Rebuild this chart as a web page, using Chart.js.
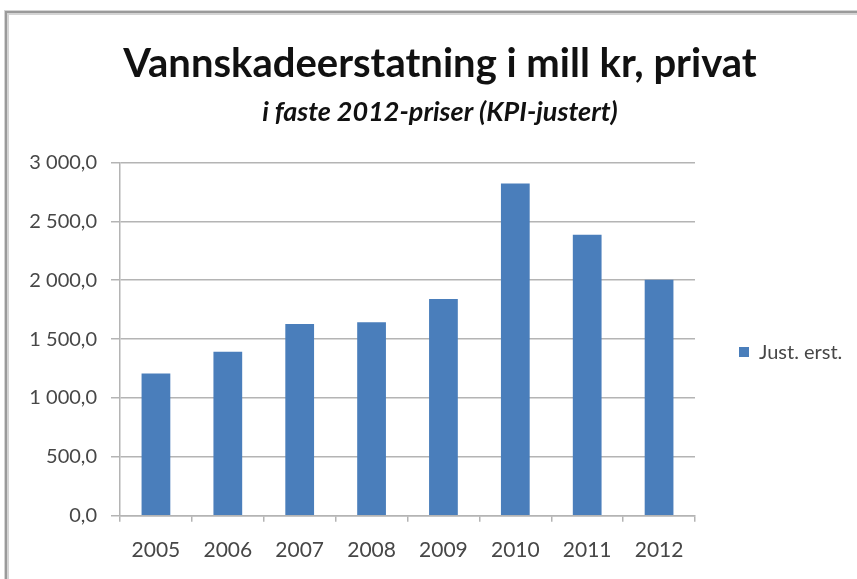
<!DOCTYPE html>
<html>
<head>
<meta charset="utf-8">
<script src="https://cdn.jsdelivr.net/npm/chart.js@4"></script>
<style>
  html, body { margin: 0; padding: 0; background: #fff; }
  #wrap { width: 857px; height: 579px; position: relative; }
</style>
</head>
<body>
<div id="wrap"><canvas id="chart-vann"></canvas></div>
<script>
// data
const years = ['2005', '2006', '2007', '2008', '2009', '2010', '2011', '2012'];
const justErst = [1208, 1392, 1628, 1643, 1841, 2820, 2385, 2003];
const seriesLabel = 'Just. erst.';
const titleText = 'Vannskadeerstatning i mill kr, privat';
const subtitleText = 'i faste 2012-priser (KPI-justert)';

const BAR_BLUE = '#4a7ebb';
const GRID_GREY = '#b4b4b4';
const TEXT_GREY = '#474747';
const FONT = 'Lato, "Open Sans", sans-serif';

const LEGEND_WIDTH = 162;
const LEGEND_DX = 34;
const LEGEND_DY = 13;

// 3 000,0 style numbers
function fmtNo(v) {
    let s = v.toFixed(1).replace('.', ',');
    let parts = s.split(',');
    parts[0] = parts[0].replace(/\B(?=(\d{3})+(?!\d))/g, ' ');
    return parts.join(',');
}

// grey frame round the whole chart
const framePlugin = {
    id: 'frame',
    beforeDraw(chart) {
        const ctx = chart.ctx;
        ctx.save();
        ctx.strokeStyle = '#d4d4d4';
        ctx.lineWidth = 5;
        ctx.beginPath();
        ctx.moveTo(6.5, chart.height);
        ctx.lineTo(6.5, 12.5);
        ctx.lineTo(chart.width, 12.5);
        ctx.stroke();
        ctx.strokeStyle = '#9a9a9a';
        ctx.lineWidth = 2;
        ctx.beginPath();
        ctx.moveTo(6, chart.height);
        ctx.lineTo(6, 12);
        ctx.lineTo(chart.width, 12);
        ctx.stroke();
        ctx.restore();
    }
};

// fixed legend column width, items nudged right/down inside it
const legendPlace = {
    id: 'legendPlace',
    afterInit(chart) {
        const lg = chart.legend;
        if (!lg) return;
        const fit = lg.fit;
        lg.fit = function() {
            fit.call(this);
            this.width = LEGEND_WIDTH;
        };
    },
    afterUpdate(chart) {
        const lg = chart.legend;
        if (lg) {
            lg.left += LEGEND_DX;
            lg.right += LEGEND_DX;
            lg.top += LEGEND_DY;
            lg.bottom += LEGEND_DY;
        }
    }
};

const config_vann = {
    type: 'bar',
    data: {
        labels: years,
        datasets: [{
            label: seriesLabel,
            data: justErst,
            backgroundColor: BAR_BLUE,
            borderWidth: 0,
            categoryPercentage: 1,
            barPercentage: 0.4
        }]
    },
    options: {
        responsive: true,
        maintainAspectRatio: false,
        animation: false,
        layout: {
            padding: {top: 40, left: 23, right: 0, bottom: 0}
        },
        scales: {
            x: {
                grid: {
                    display: true,
                    drawOnChartArea: false,
                    drawTicks: true,
                    tickLength: 6,
                    color: GRID_GREY,
                    lineWidth: 1.5
                },
                border: {color: GRID_GREY, width: 1.5},
                ticks: {
                    color: TEXT_GREY,
                    font: {family: FONT, size: 21},
                    padding: 16
                }
            },
            y: {
                min: 0,
                max: 3000,
                afterFit(scale) { scale.width = 97; },
                grid: {
                    color: GRID_GREY,
                    lineWidth: 1.5,
                    tickLength: 9
                },
                border: {color: GRID_GREY, width: 1.5},
                ticks: {
                    stepSize: 500,
                    color: TEXT_GREY,
                    padding: 14,
                    font: {family: FONT, size: 20},
                    callback: (v) => fmtNo(v)
                }
            }
        },
        plugins: {
            legend: {
                display: true,
                position: 'right',
                fullSize: false,
                labels: {
                    color: TEXT_GREY,
                    font: {family: FONT, size: 20},
                    boxWidth: 10,
                    boxHeight: 10,
                    padding: 10
                }
            },
            title: {
                display: true,
                text: titleText,
                color: '#111',
                font: {family: FONT, size: 40, weight: 'bold'},
                padding: {top: 0, bottom: 8}
            },
            subtitle: {
                display: true,
                text: subtitleText,
                color: '#111',
                font: {family: FONT, size: 27, weight: 'bold', style: 'italic'},
                padding: {top: 0, bottom: 34}
            },
            tooltip: {enabled: false}
        }
    },
    plugins: [framePlugin, legendPlace]
};

var vann = new Chart(document.getElementById('chart-vann'), config_vann);
</script>
</body>
</html>
